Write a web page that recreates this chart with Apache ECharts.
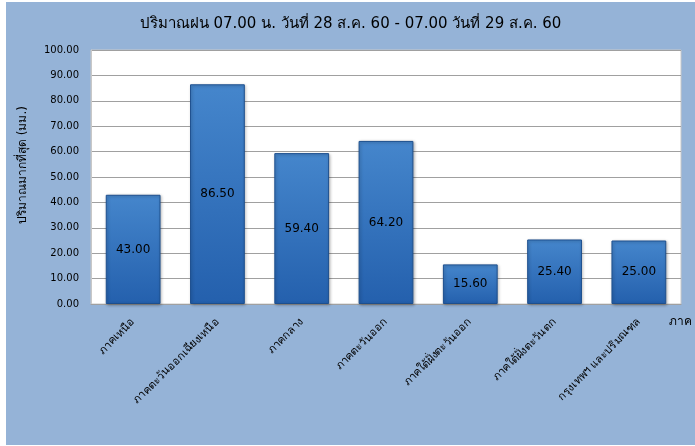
<!DOCTYPE html>
<html>
<head>
  <meta charset="utf-8" />
  <title>ปริมาณฝน</title>
  <script src="https://cdn.jsdelivr.net/npm/echarts@6/dist/echarts.min.js"></script>
  <style>
    html, body { margin: 0; padding: 0; background: #ffffff; }
    #main { position: absolute; left: 6px; top: 2px; width: 689px; height: 443px; }
  </style>
</head>
<body>
  <div id="main"></div>
  <script>
    // ข้อมูล
    var titleText = 'ปริมาณฝน 07.00 น. วันที่ 28 ส.ค. 60 - 07.00 วันที่ 29 ส.ค. 60';
    var regions = ['ภาคเหนือ', 'ภาคตะวันออกเฉียงเหนือ', 'ภาคกลาง', 'ภาคตะวันออก',
      'ภาคใต้ฝั่งตะวันออก', 'ภาคใต้ฝั่งตะวันตก', 'กรุงเทพฯ และปริมณฑล'];
    var rainMax = [43.00, 86.50, 59.40, 64.20, 15.60, 25.40, 25.00];
    var yMin = 0, yMax = 100, yStep = 10;

    var font = 'Tahoma, "DejaVu Sans", sans-serif';
    var chart = echarts.init(document.getElementById('main'));
    var option = {
      backgroundColor: '#95b3d7',
      animation: false,
      textStyle: { fontFamily: font },
      title: {
        text: titleText,
        left: 'center',
        top: 10,
        textStyle: { fontSize: 15, fontWeight: 'normal', color: '#000', fontFamily: font }
      },
      grid: { left: 85, right: 11, top: 48, bottom: 141, backgroundColor: '#ffffff', show: true, borderColor: '#c8c8c8', borderWidth: 1 },
      xAxis: {
        type: 'category',
        data: regions,
        name: 'ภาค',
        nameLocation: 'end',
        nameGap: -12,
        nameTextStyle: { color: '#000', fontSize: 12, align: 'left', verticalAlign: 'top', padding: [12, 0, 0, 0] },
        axisLine: { lineStyle: { color: '#a0a0a0' } },
        axisTick: { show: false },
        axisLabel: { rotate: 45, color: '#000', fontSize: 11, margin: 16, interval: 0 }
      },
      yAxis: {
        type: 'value',
        min: yMin,
        max: yMax,
        interval: yStep,
        name: 'ปริมาณมากที่สุด (มม.)',
        nameLocation: 'middle',
        nameGap: 62,
        nameTextStyle: { color: '#000', fontSize: 12, padding: [0, 0, 0, 24] },
        axisLine: { show: true, lineStyle: { color: '#c8c8c8' } },
        axisTick: { show: false },
        axisLabel: { color: '#000', fontSize: 10, margin: 12, formatter: function (v) { return v.toFixed(2); } },
        splitLine: { lineStyle: { color: '#a0a0a0', width: 1 } }
      },
      series: [{
        type: 'bar',
        data: rainMax,
        barCategoryGap: '35%',
        itemStyle: {
          color: new echarts.graphic.LinearGradient(0, 0, 0, 1, [
            { offset: 0, color: '#4586cc' },
            { offset: 1, color: '#2460ad' }
          ]),
          borderColor: '#1d4f8e',
          borderWidth: 1,
          shadowColor: 'rgba(0,0,0,0.3)',
          shadowBlur: 3,
          shadowOffsetX: 1,
          shadowOffsetY: 1
        },
        label: {
          show: true,
          position: 'inside',
          color: '#000',
          fontSize: 12,
          formatter: function (p) { return p.value.toFixed(2); }
        }
      }]
    };
    chart.setOption(option);
  </script>
</body>
</html>
